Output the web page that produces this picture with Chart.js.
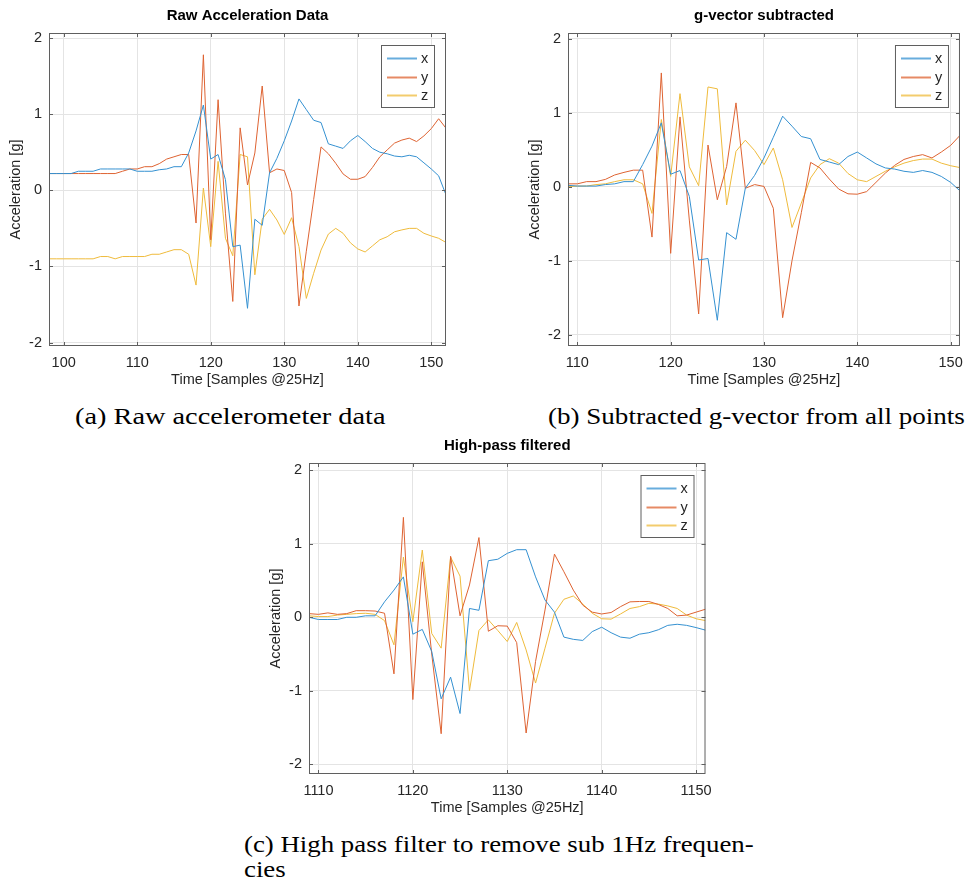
<!doctype html>
<html lang="en">

<head>
  <meta charset="utf-8">
  <title>Accelerometer processing</title>
  <script src="https://cdn.jsdelivr.net/npm/chart.js"></script>
  <style>
    html, body { margin: 0; padding: 0; background: #fff; }
    body { position: relative; width: 971px; height: 884px; overflow: hidden; }
    canvas { position: absolute; }
    .caption {
      position: absolute;
      font-family: "Liberation Serif", "Times New Roman", serif;
      font-size: 24px;
      line-height: 25px;
      color: #000;
      white-space: nowrap;
      transform-origin: left top;
    }
  </style>
</head>

<body>
  <!-- three panels, each one a Chart.js canvas -->
  <canvas id="chartA" width="460" height="395" style="left:0;top:0"></canvas>
  <canvas id="chartB" width="452" height="395" style="left:519px;top:0"></canvas>
  <canvas id="chartC" width="460" height="393" style="left:260px;top:430px"></canvas>

  <div class="caption" style="left:75px;top:404px;transform:scaleX(1.18)">(a) Raw accelerometer data</div>
  <div class="caption" style="left:548px;top:404px;transform:scaleX(1.127)">(b) Subtracted g-vector from all points</div>
  <div class="caption" style="left:244px;top:832px;transform:scaleX(1.118)">(c) High pass filter to remove sub 1Hz frequen-<br>cies</div>

  <script>
    // === DATA ===

    // (a) raw data
    const samplesA = [98, 99, 100, 101, 102, 103, 104, 105, 106, 107, 108, 109, 110, 111, 112, 113, 114, 115, 116, 117,
      118, 119, 120, 121, 122, 123, 124, 125, 126, 127, 128, 129, 130, 131, 132, 133, 134, 135, 136, 137,
      138, 139, 140, 141, 142, 143, 144, 145, 146, 147, 148, 149, 150, 151, 152];
    const rawX = [0.22, 0.22, 0.22, 0.22, 0.25, 0.25, 0.25, 0.28, 0.28, 0.28, 0.28, 0.28, 0.25, 0.25, 0.25, 0.27, 0.28, 0.31, 0.31, 0.49,
      0.78, 1.12, 0.41, 0.47, 0.14, -0.74, -0.72, -1.55, -0.38, -0.46, 0.23, 0.42, 0.65, 0.91, 1.20, 1.06, 0.92, 0.89, 0.61, 0.58,
      0.55, 0.65, 0.72, 0.64, 0.55, 0.50, 0.48, 0.45, 0.44, 0.46, 0.44, 0.36, 0.28, 0.19, -0.06];
    const rawY = [0.22, 0.22, 0.22, 0.22, 0.22, 0.22, 0.22, 0.22, 0.22, 0.22, 0.25, 0.28, 0.28, 0.31, 0.31, 0.35, 0.41, 0.44, 0.47, 0.47,
      -0.43, 1.78, -0.65, 1.19, -0.30, -1.46, 0.82, 0.07, 0.49, 1.37, 0.23, 0.28, 0.26, -0.03, -1.52, -0.80, -0.12, 0.57, 0.48, 0.355,
      0.215, 0.145, 0.145, 0.18, 0.30, 0.44, 0.53, 0.62, 0.66, 0.685, 0.64, 0.715, 0.81, 0.94, 0.815];
    const rawZ = [-0.90, -0.90, -0.90, -0.90, -0.90, -0.90, -0.90, -0.87, -0.87, -0.90, -0.87, -0.87, -0.87, -0.87, -0.84, -0.84, -0.81, -0.78, -0.78, -0.84,
      -1.245, 0.03, -0.74, 0.38, -0.63, -0.86, 0.47, 0.44, -1.11, -0.38, -0.25, -0.39, -0.58, -0.36, -0.74, -1.42, -1.09, -0.785, -0.575, -0.50,
      -0.565, -0.69, -0.77, -0.81, -0.73, -0.65, -0.61, -0.545, -0.52, -0.50, -0.50, -0.565, -0.60, -0.63, -0.685];

    // (b) g-vector subtracted
    const samplesB = [109, 110, 111, 112, 113, 114, 115, 116, 117, 118, 119, 120, 121, 122, 123, 124, 125, 126, 127, 128,
      129, 130, 131, 132, 133, 134, 135, 136, 137, 138, 139, 140, 141, 142, 143, 144, 145, 146, 147, 148,
      149, 150, 151];
    const subX = [0.02, 0.01, 0.01, 0.01, 0.03, 0.04, 0.07, 0.07, 0.30, 0.55, 0.865, 0.17, 0.22, -0.13, -0.99, -0.97, -1.805, -0.62, -0.71, -0.02,
      0.155, 0.39, 0.67, 0.955, 0.82, 0.68, 0.65, 0.37, 0.335, 0.30, 0.41, 0.47, 0.39, 0.31, 0.255, 0.24, 0.21, 0.195, 0.22, 0.195,
      0.14, 0.06, -0.055];
    const subY = [0.04, 0.04, 0.07, 0.07, 0.10, 0.16, 0.195, 0.225, 0.225, -0.68, 1.54, -0.90, 0.945, -0.45, -1.72, 0.565, -0.175, 0.275, 1.135, -0.02,
      0.03, 0.005, -0.29, -1.77, -1.0, -0.35, 0.33, 0.255, 0.105, -0.03, -0.095, -0.10, -0.065, 0.06, 0.185, 0.29, 0.37, 0.41, 0.435, 0.39,
      0.47, 0.56, 0.695];
    const subZ = [0.0, 0.01, 0.01, 0.03, 0.04, 0.07, 0.095, 0.095, 0.04, -0.36, 0.91, 0.14, 1.26, 0.27, 0.015, 1.35, 1.325, -0.245, 0.48, 0.63,
      0.49, 0.30, 0.525, 0.095, -0.55, -0.22, 0.12, 0.30, 0.38, 0.32, 0.18, 0.095, 0.07, 0.14, 0.21, 0.27, 0.32, 0.355, 0.375, 0.375,
      0.32, 0.285, 0.26];

    // (c) high-pass filtered
    const samplesC = [1109, 1110, 1111, 1112, 1113, 1114, 1115, 1116, 1117, 1118, 1119, 1120, 1121, 1122, 1123, 1124, 1125, 1126, 1127, 1128,
      1129, 1130, 1131, 1132, 1133, 1134, 1135, 1136, 1137, 1138, 1139, 1140, 1141, 1142, 1143, 1144, 1145, 1146, 1147, 1148,
      1149, 1150, 1151];
    const hpX = [0.0, -0.03, -0.03, -0.03, 0.0, 0.0, 0.02, 0.02, 0.21, 0.37, 0.55, -0.23, -0.165, -0.465, -1.11, -0.815, -1.31, 0.12, 0.095, 0.77,
      0.79, 0.87, 0.92, 0.92, 0.55, 0.235, 0.07, -0.27, -0.30, -0.315, -0.195, -0.135, -0.21, -0.27, -0.285, -0.23, -0.21, -0.17, -0.11, -0.095,
      -0.11, -0.14, -0.175];
    const hpY = [0.05, 0.04, 0.06, 0.04, 0.05, 0.09, 0.09, 0.085, 0.055, -0.77, 1.36, -1.12, 0.755, -0.50, -1.585, 0.83, 0.02, 0.44, 1.085, -0.19,
      -0.115, -0.12, -0.345, -1.575, -0.6, 0.1, 0.86, 0.62, 0.37, 0.165, 0.07, 0.045, 0.065, 0.145, 0.21, 0.215, 0.215, 0.175, 0.12, 0.02,
      0.03, 0.07, 0.11];
    const hpZ = [0.02, 0.01, 0.01, 0.03, 0.04, 0.05, 0.055, 0.04, -0.045, -0.375, 0.82, -0.06, 0.915, -0.22, -0.42, 0.82, 0.56, -1.0, -0.18, -0.035,
      -0.18, -0.33, -0.07, -0.445, -0.895, -0.42, 0.055, 0.245, 0.29, 0.18, 0.055, -0.02, -0.025, 0.045, 0.12, 0.145, 0.19, 0.18, 0.155, 0.12,
      0.03, -0.02, -0.045];

    // tick labels
    const xTicksA = [100, 110, 120, 130, 140, 150];
    const xTicksB = [110, 120, 130, 140, 150];
    const xTicksC = [1110, 1120, 1130, 1140, 1150];
    const yTicks = [-2, -1, 0, 1, 2];
    const seriesNames = ["x", "y", "z"];

    // === STYLE ===
    const FONT = "'Liberation Sans', Arial, sans-serif";
    const COLORS = ["#3591d1", "#de6332", "#efbb3c"];
    const AXIS_COLOR = "#262626";
    const BOX_COLOR = "#5f5f5f";
    const GRID_COLOR = "#e4e4e4";
    const LABEL_SIZE = 14.5;

    Chart.defaults.font.family = FONT;

    // Octave-like box: frame, inward ticks on all sides and a legend inside the axes
    const octaveBox = {
      id: "octaveBox",
      afterDatasetsDraw(chart) {
        const { ctx, chartArea: a, scales } = chart;
        ctx.save();
        ctx.strokeStyle = BOX_COLOR;
        ctx.lineWidth = 1;
        ctx.strokeRect(a.left + 0.5, a.top + 0.5, a.right - a.left - 1, a.bottom - a.top - 1);

        // inward tick marks
        ctx.beginPath();
        scales.x.ticks.forEach(t => {
          const px = Math.round(scales.x.getPixelForValue(t.value)) + 0.5;
          ctx.moveTo(px, a.bottom); ctx.lineTo(px, a.bottom - 4);
          ctx.moveTo(px, a.top); ctx.lineTo(px, a.top + 4);
        });
        scales.y.ticks.forEach(t => {
          const py = Math.round(scales.y.getPixelForValue(t.value)) + 0.5;
          ctx.moveTo(a.left, py); ctx.lineTo(a.left + 4, py);
          ctx.moveTo(a.right, py); ctx.lineTo(a.right - 4, py);
        });
        ctx.stroke();

        // legend box
        const w = 53, h = 62;
        const lx = a.right - 12 - w, ly = a.top + 12;
        ctx.fillStyle = "#fff";
        ctx.fillRect(lx, ly, w, h);
        ctx.strokeRect(lx + 0.5, ly + 0.5, w, h);
        ctx.font = LABEL_SIZE + "px " + FONT;
        ctx.textBaseline = "middle";
        ctx.textAlign = "left";
        chart.data.datasets.forEach((ds, i) => {
          const ey = Math.round(ly + 13 + i * 18.5) + 0.5;
          ctx.strokeStyle = ds.borderColor;
          ctx.globalAlpha = 0.75;
          ctx.lineWidth = 2;
          ctx.beginPath();
          ctx.moveTo(lx + 6, ey); ctx.lineTo(lx + 36, ey);
          ctx.stroke();
          ctx.globalAlpha = 1;
          ctx.fillStyle = AXIS_COLOR;
          ctx.fillText(ds.label, lx + 40, ey);
        });
        ctx.restore();
      }
    };

    // === BUILD ONE PANEL ===
    function makePanel(id, title, samples, series, xMin, xMax, xTicks, yMin, yMax, padRight) {
      new Chart(document.getElementById(id), {
        type: "line",
        data: {
          labels: samples,
          datasets: series.map((values, i) => ({
            label: seriesNames[i],
            data: values,
            borderColor: COLORS[i],
            borderWidth: 1,
            pointRadius: 0,
            tension: 0,
            fill: false
          }))
        },
        options: {
          responsive: false,
          animation: false,
          events: [],
          layout: { padding: { left: 0, right: padRight, top: 0, bottom: 0 } },
          plugins: {
            legend: { display: false },
            tooltip: { enabled: false },
            title: {
              display: true,
              text: title,
              fullSize: false,
              color: "#000",
              font: { size: 15, weight: "bold" },
              padding: { top: 6.8, bottom: 8.2 }
            }
          },
          scales: {
            x: {
              type: "linear",
              min: xMin,
              max: xMax,
              afterBuildTicks: s => { s.ticks = xTicks.map(v => ({ value: v })); },
              afterFit: s => { s.height = 49; },
              grid: { color: GRID_COLOR, drawTicks: false },
              border: { display: false },
              ticks: {
                color: AXIS_COLOR,
                font: { size: LABEL_SIZE },
                padding: 8,
                maxRotation: 0,
                autoSkip: false,
                callback: v => String(v)
              },
              title: {
                display: true,
                text: "Time [Samples @25Hz]",
                color: AXIS_COLOR,
                font: { size: LABEL_SIZE },
                padding: { top: 0, bottom: 6.3 }
              }
            },
            y: {
              min: yMin,
              max: yMax,
              afterBuildTicks: s => { s.ticks = yTicks.map(v => ({ value: v })); },
              afterFit: s => { s.width = 49; },
              grid: { color: GRID_COLOR, drawTicks: false },
              border: { display: false },
              ticks: { color: AXIS_COLOR, font: { size: LABEL_SIZE }, padding: 7, callback: v => String(v) },
              title: {
                display: true,
                text: "Acceleration [g]",
                color: AXIS_COLOR,
                font: { size: LABEL_SIZE },
                padding: { top: 7.3, bottom: 0 }
              }
            }
          }
        },
        plugins: [octaveBox]
      });
    }

    // === INIT ===
    makePanel("chartA", "Raw Acceleration Data", samplesA, [rawX, rawY, rawZ], 98, 152, xTicksA, -2.045, 2.066, 14);
    makePanel("chartB", "g-vector subtracted", samplesB, [subX, subY, subZ], 109, 151, xTicksB, -2.153, 2.08, 5);
    makePanel("chartC", "High-pass filtered", samplesC, [hpX, hpY, hpZ], 1109, 1151, xTicksC, -2.133, 2.10, 14);
  </script>
</body>

</html>
